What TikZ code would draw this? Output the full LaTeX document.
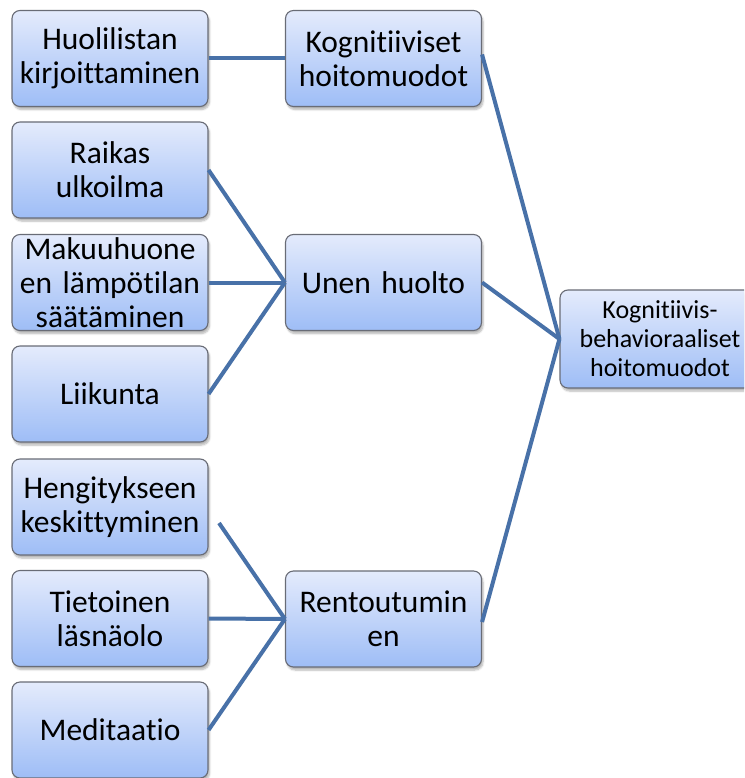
\documentclass[tikz,border=0pt]{standalone}
\usepackage{fontspec}
\setmainfont[Ligatures={NoCommon}]{Carlito}
\usetikzlibrary{shadows.blur}
\definecolor{boxtop}{RGB}{228,235,252}
\definecolor{boxbot}{RGB}{158,189,246}
\definecolor{boxline}{RGB}{105,108,118}
\definecolor{conn}{RGB}{72,113,168}
\tikzset{
  box/.style={draw=boxline, line width=1.1pt, rounded corners=8pt,
    top color=boxtop, bottom color=boxbot,
    minimum width=196pt, minimum height=96pt, inner sep=0pt,
    text width=194pt, align=center,
    font=\fontsize{31.5}{34}\selectfont,
    blur shadow={shadow xshift=1.5pt, shadow yshift=-3pt, shadow opacity=30, shadow blur steps=6}},
  rbox/.style={box, minimum width=200pt, minimum height=98pt, text width=192pt,
    font=\fontsize{26}{29}\selectfont},
  link/.style={draw=conn, line width=4pt}
}
\begin{document}
\begin{tikzpicture}[x=1pt,y=-1pt]
\clip (0,0) rectangle (744,778);
\useasboundingbox (0,0) rectangle (744,778);
% left column
\node[box] (huol) at (110,58.5) {Huolilistan\\kirjoittaminen};
\node[box] (raik) at (110,170) {Raikas\\ulkoilma};
\node[box] (maku) at (110,282.5) {Makuuhuone\\en lämpötilan\\säätäminen};
\node[box] (liik) at (110,394) {Liikunta};
\node[box] (heng) at (110,507) {Hengitykseen\\keskittyminen};
\node[box] (tiet) at (110,618.5) {Tietoinen\\läsnäolo};
\node[box] (medi) at (110,730) {Meditaatio};
% middle column
\node[box] (kogn) at (383.5,58.5) {Kognitiiviset\\hoitomuodot};
\node[box] (unen) at (383.5,282.5) {Unen huolto};
\node[box] (rent) at (383.5,619) {Rentoutumin\\en};
% right
\node[rbox] (kbh) at (660,339) {Kognitiivis-\\behavioraaliset\\hoitomuodot};
% connectors
\coordinate (hengend) at (219,523);
\draw[link] (huol.east) -- (kogn.west);
\draw[link] (raik.east) -- (unen.west);
\draw[link] (maku.east) -- (unen.west);
\draw[link] (liik.east) -- (unen.west);
\draw[link] (hengend) -- (rent.west);
\draw[link] (tiet.east) -- (rent.west);
\draw[link] (medi.east) -- (rent.west);
\draw[link] ([yshift=4pt]kogn.east) -- (kbh.west);
\draw[link] (unen.east) -- (kbh.west);
\draw[link] ([yshift=-3pt]rent.east) -- (kbh.west);
\end{tikzpicture}
\end{document}
